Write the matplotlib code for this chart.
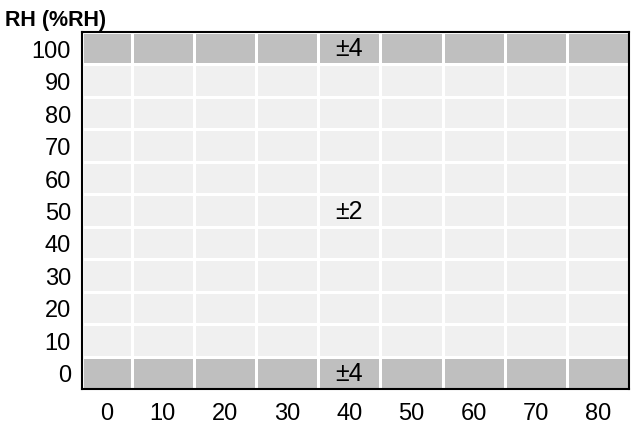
import numpy as np
import matplotlib.pyplot as plt
from matplotlib.colors import ListedColormap, BoundaryNorm

plt.rcParams['font.family'] = ['Liberation Sans Narrow', 'Liberation Sans', 'DejaVu Sans']

# Temperature columns (°C) and humidity rows (%RH)
temps = [0, 10, 20, 30, 40, 50, 60, 70, 80]
rh_levels = [0, 10, 20, 30, 40, 50, 60, 70, 80, 90, 100]
# RH accuracy (±%RH) per humidity row, same across all temperatures
accuracy = [4, 2, 2, 2, 2, 2, 2, 2, 2, 2, 4]
# where the accuracy labels are written
label_cells = [(40, 100, '±4'), (40, 50, '±2'), (40, 0, '±4')]

grid = np.tile(np.array(accuracy)[:, None], (1, len(temps)))

# cell edges: first column is a bit narrower than the others
x_edges = np.array([-3] + [t + 5 for t in temps])
y_edges = np.arange(len(rh_levels) + 1) - 0.5
x_centers = (x_edges[:-1] + x_edges[1:]) / 2

fig = plt.figure(figsize=(6.36, 4.31), dpi=100)
ax = fig.add_axes([0.129, 0.0951, 0.860, 0.8283])

cmap = ListedColormap(['#f0f0f0', '#bfbfbf'])
norm = BoundaryNorm([0, 3, 5], 2)
ax.pcolormesh(x_edges, y_edges, grid, cmap=cmap, norm=norm,
              edgecolor='white', linewidth=2)

for t, rh, txt in label_cells:
    ax.text(x_centers[temps.index(t)], rh_levels.index(rh), txt,
            ha='center', va='center', fontsize=18)

ax.set_xlim(x_edges[0], x_edges[-1])
ax.set_ylim(y_edges[0], y_edges[-1])
ax.set_xticks(x_centers)
ax.set_xticklabels([str(t) for t in temps])
ax.set_yticks(range(len(rh_levels)))
ax.set_yticklabels([str(r) for r in rh_levels])
ax.tick_params(length=0, labelsize=17)
ax.tick_params(axis='x', pad=9)
ax.tick_params(axis='y', pad=8)
for s in ax.spines.values():
    s.set_linewidth(1.5)
    s.set_color('black')

fig.text(0.008, 0.953, 'RH (%RH)', fontsize=15.5, fontweight='bold',
         ha='left', va='center')

fig.savefig('out.png', dpi=100)
